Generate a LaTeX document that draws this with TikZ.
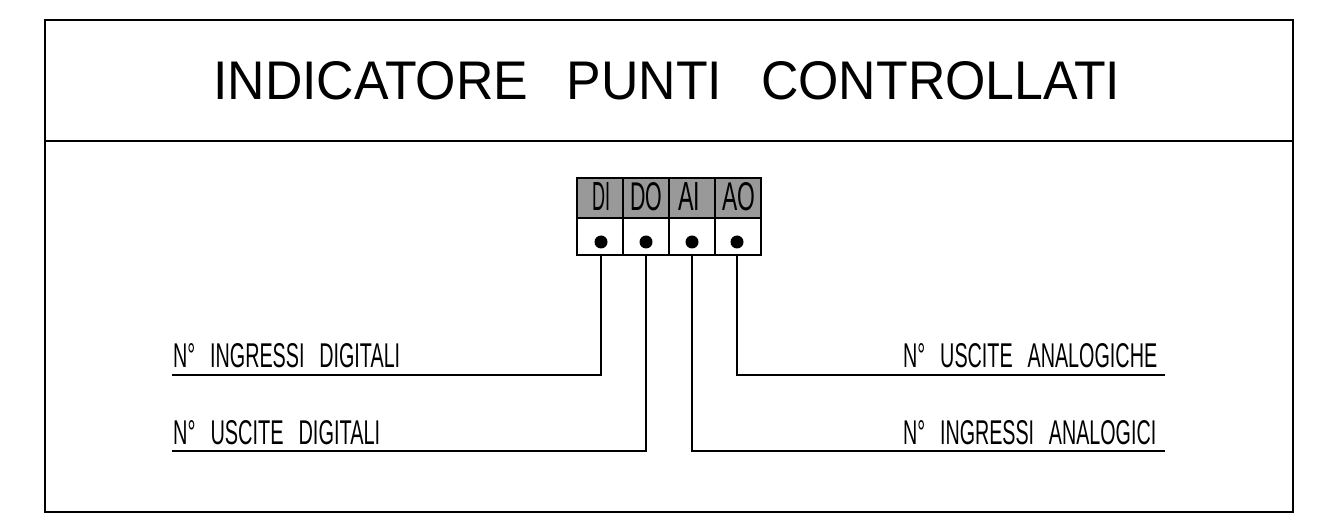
\documentclass[tikz,border=0pt]{standalone}
\usepackage{fontspec}
\setmainfont{Liberation Sans}
\usepackage{graphicx}
\definecolor{hdrgray}{HTML}{999999}
\newcommand{\fitbox}[3]{\resizebox{#1}{#2}{#3}}
\newcommand{\wg}{\hspace{0.75em}}
\newcommand{\tg}{\hspace{0.75em}}
\begin{document}
\begin{tikzpicture}[x=1pt,y=-1pt,
  frame/.style={draw=black,line width=1.3pt},
  cellbox/.style={draw=black,line width=2pt},
  wire/.style={draw=black,line width=1.2pt},
  lbl/.style={inner sep=0pt,anchor=base west},
  dotmark/.style={circle,fill=black,inner sep=0pt,minimum size=13pt}]
\useasboundingbox (0,0) rectangle (1325,521);
% outer frame
\draw[frame] (45,20) rectangle (1293,512);
\draw[frame] (45,141) -- (1293,141);
% title
\node[lbl] (title) at (213,100) {\fitbox{907pt}{38pt}{INDICATORE\tg PUNTI\tg CONTROLLATI}};
% box
\fill[hdrgray] (577,178) rectangle (761,218);
\draw[cellbox] (577,178) rectangle (761,255);
\coordinate (bot) at (577,255);
\draw[cellbox] (577,218) -- (761,218);
\foreach \xx in {623,669,715} \draw[cellbox] (\xx,178) -- (\xx,255);
\node[lbl] (hdi) at (592,211) {\fitbox{18pt}{28pt}{DI}};
\node[lbl] (hdo) at (630,211) {\fitbox{32pt}{28pt}{DO}};
\node[lbl] (hai) at (678,211) {\fitbox{22pt}{28pt}{AI}};
\node[lbl] (hao) at (722,211) {\fitbox{33pt}{28pt}{AO}};
\node[dotmark] (ddi) at (601,242) {};
\node[dotmark] (ddo) at (646,242) {};
\node[dotmark] (dai) at (692,242) {};
\node[dotmark] (dao) at (737,242) {};
% label end coordinates
\coordinate (e1) at (172,375);
\coordinate (e2) at (172,451);
\coordinate (e3) at (1165,451);
\coordinate (e4) at (1165,375);
\draw[wire] (ddi |- bot) |- (e1);
\draw[wire] (ddo |- bot) |- (e2);
\draw[wire] (dai |- bot) |- (e3);
\draw[wire] (dao |- bot) |- (e4);
% labels
\node[lbl] (l1) at (173,367) {\fitbox{227pt}{24pt}{N°\wg INGRESSI\wg DIGITALI}};
\node[lbl] (l2) at (173,444) {\fitbox{207pt}{24pt}{N°\wg USCITE\wg DIGITALI}};
\node[lbl] (l3) at (903,367) {\fitbox{254pt}{24pt}{N°\wg USCITE\wg ANALOGICHE}};
\node[lbl] (l4) at (903,444) {\fitbox{253pt}{24pt}{N°\wg INGRESSI\wg ANALOGICI}};
\end{tikzpicture}
\end{document}
